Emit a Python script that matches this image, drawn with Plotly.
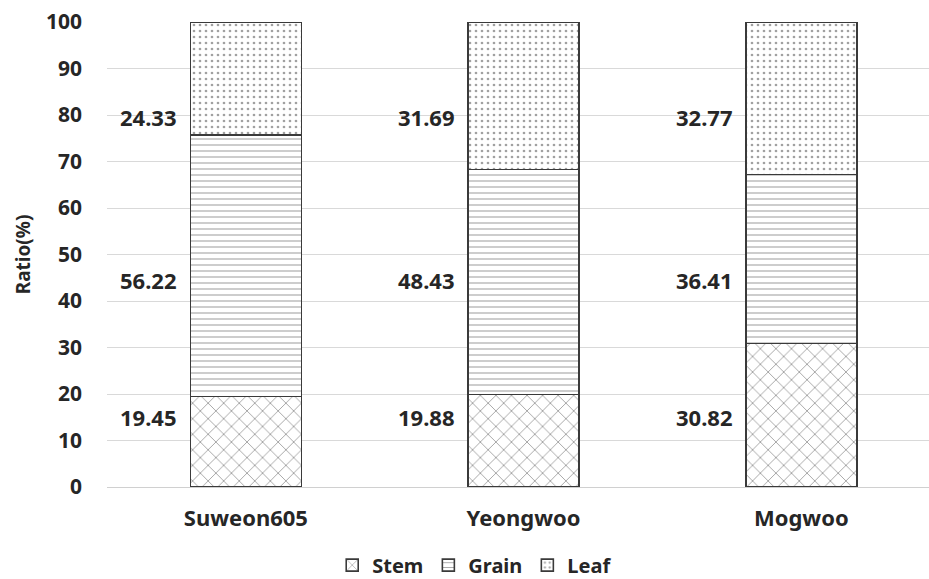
import plotly.graph_objects as go

categories = ["Suweon605", "Yeongwoo", "Mogwoo"]
stem = [19.45, 19.88, 30.82]
grain = [56.22, 48.43, 36.41]
leaf = [24.33, 31.69, 32.77]
y_ticks = [0, 10, 20, 30, 40, 50, 60, 70, 80, 90, 100]

series = [("Stem", stem, "x", 11, 0.16), ("Grain", grain, "-", 6, 0.18), ("Leaf", leaf, ".", 6, 0.16)]
# label rows (data units) where the value labels sit, left of each bar
label_rows = {"Stem": 15, "Grain": 44.5, "Leaf": 79.5}

FONT = "Noto Sans"
fig = go.Figure()
for name, vals, shape, size, sol in series:
    fig.add_trace(go.Bar(
        name=name, x=categories, y=vals, width=0.4,
        marker=dict(
            color="white",
            line=dict(color="#3a3a3a", width=1.6),
            pattern=dict(shape=shape, fgcolor="#444444", bgcolor="white",
                         size=size, solidity=sol),
        ),
    ))
    for c, v in zip(categories, vals):
        fig.add_annotation(x=c, y=label_rows[name], text=f"{v:.2f}", showarrow=False,
                           xanchor="center", yanchor="middle", xshift=-97,
                           font=dict(family=FONT, size=22, color="#262626", weight="bold"))

fig.update_layout(
    barmode="stack",
    width=929, height=579,
    margin=dict(l=107, r=0, t=22, b=92),
    plot_bgcolor="white", paper_bgcolor="white",
    font=dict(family=FONT, color="#262626"),
    legend=dict(orientation="h", xref="container", yref="container",
                x=0.511, xanchor="center", y=0.024, yanchor="middle",
                traceorder="normal",
                font=dict(family=FONT, size=20, color="#262626", weight="bold"),
                itemwidth=30, tracegroupgap=0),
    xaxis=dict(range=[-0.5, 2.46], showgrid=False, showline=True, linecolor="#d0d0d0",
               linewidth=1, ticks="", automargin=False,
               tickfont=dict(family=FONT, size=22, weight="bold", color="#262626"),
               ticklabelstandoff=12),
    yaxis=dict(range=[0, 100], tickvals=y_ticks, showgrid=True, gridcolor="#d9d9d9", gridwidth=1,
               zeroline=False, showline=False, automargin=False,
               tickfont=dict(family=FONT, size=21, weight="bold", color="#262626"),
               ticklabelstandoff=24,
               title=dict(text="Ratio(%)", font=dict(family=FONT, size=19, weight="bold", color="#262626"),
                          standoff=10)),
)

fig.write_html("out.html", config={"displayModeBar": False},
               post_script="document.body.style.margin='0';")
